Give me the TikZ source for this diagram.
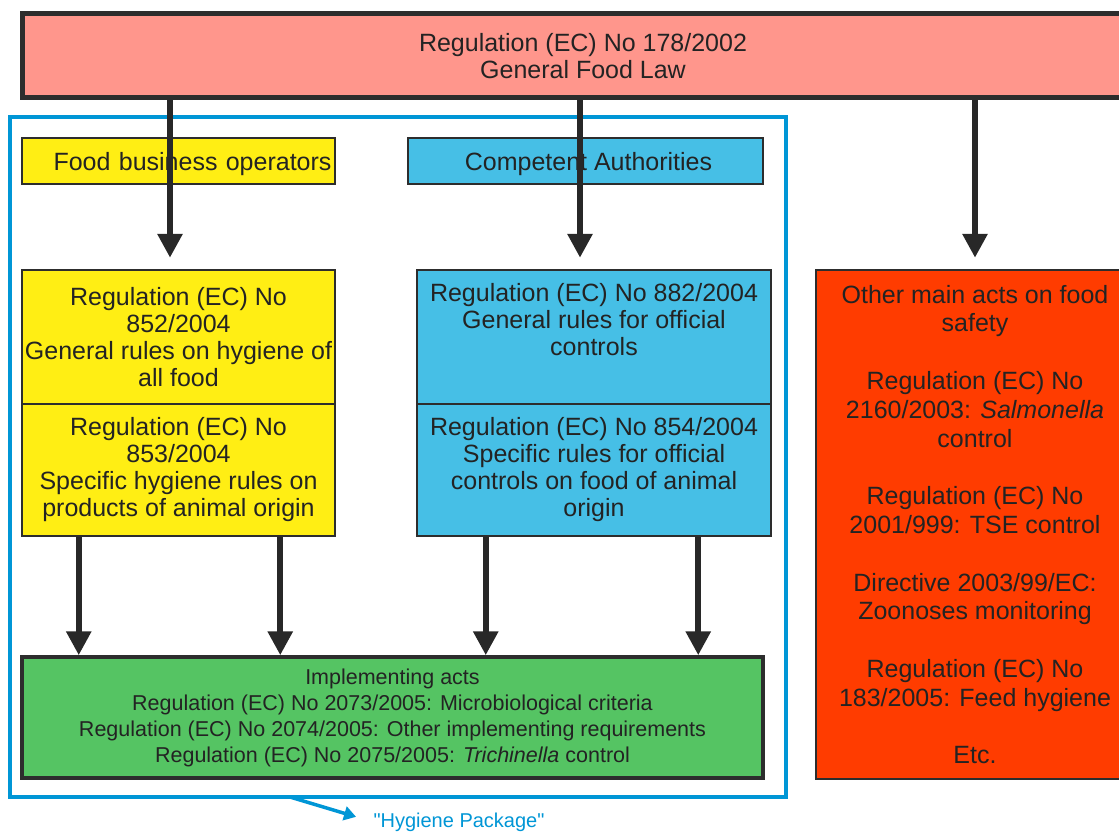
\documentclass[tikz,border=0pt]{standalone}
\usepackage{fontspec}
\setmainfont{Liberation Sans}
\newfontfamily\hygfont{Liberation Sans}
\usetikzlibrary{arrows.meta}
\definecolor{salmon}{RGB}{255,150,140}
\definecolor{yel}{RGB}{255,238,20}
\definecolor{sky}{RGB}{70,191,230}
\definecolor{grn}{RGB}{85,196,99}
\definecolor{orng}{RGB}{255,60,0}
\definecolor{hyg}{RGB}{0,150,214}
\definecolor{boxline}{RGB}{45,45,45}
\definecolor{txt}{RGB}{35,35,35}
\definecolor{arr}{RGB}{40,40,40}
\tikzset{
  box/.style={draw=boxline, line width=2.5pt, align=center, inner sep=0pt, text=txt,
    font=\fontsize{25}{27}\selectfont},
  bigarrow/.style={draw=arr, line width=6pt, -{Triangle[width=24pt,length=24pt]}},
}
\begin{document}
\begin{tikzpicture}[x=1pt,y=-1pt]
\useasboundingbox (0,0) rectangle (1119,832);
\clip (0,0) rectangle (1119,832);
\fill[white] (0,0) rectangle (1119,832);
% hygiene package frame
\draw[hyg, line width=3.5pt] (10,117) rectangle (786,797);
% boxes
\node[box, line width=5pt, fill=salmon, minimum width=1122pt, minimum height=84pt] (gfl) at (583,56)
  {Regulation (EC) No 178/2002\\General Food Law};
\node[box, fill=yel, minimum width=313pt, minimum height=46pt, text width=306pt, align=right,
  text height=20pt, text depth=2pt] (fbo) at (178.5,161)
  {Food business operators};
\node[box, fill=sky, minimum width=355pt, minimum height=46pt,
  text height=20pt, text depth=2pt] (ca) at (585.5,161)
  {\hspace*{6pt}Competent Authorities};
\node[box, fill=yel, minimum width=313pt, minimum height=134pt] (r852) at (178.5,337)
  {Regulation (EC) No\\852/2004\\General rules on hygiene of\\all food};
\node[box, fill=yel, minimum width=313pt, minimum height=132pt] (r853) at (178.5,470)
  {Regulation (EC) No\\853/2004\\Specific hygiene rules on\\products of animal origin};
\node[box, fill=sky, minimum width=354pt, minimum height=134pt] (r882) at (594,337)
  {Regulation (EC) No 882/2004\\General rules for official\\controls\\\strut};
\node[box, fill=sky, minimum width=354pt, minimum height=132pt] (r854) at (594,470)
  {Regulation (EC) No 854/2004\\Specific rules for official\\controls on food of animal\\origin};
\node[box, fill=grn, line width=3.5pt, minimum width=741pt, minimum height=121pt,
  font=\fontsize{21.5}{26}\selectfont] (impl) at (392.5,717.5)
  {Implementing acts\\Regulation (EC) No 2073/2005: Microbiological criteria\\
   Regulation (EC) No 2074/2005: Other implementing requirements\\
   Regulation (EC) No 2075/2005: \textit{Trichinella} control};
\node[box, fill=orng, minimum width=318pt, minimum height=509pt,
  font=\fontsize{25}{28.8}\selectfont] (other) at (975,524.5)
  {Other main acts on food\\safety\\[28.8pt]
   Regulation (EC) No\\2160/2003: \textit{Salmonella}\\control\\[28.8pt]
   Regulation (EC) No\\2001/999: TSE control\\[28.8pt]
   Directive 2003/99/EC:\\Zoonoses monitoring\\[28.8pt]
   Regulation (EC) No\\183/2005: Feed hygiene\\[28.8pt]
   Etc.};
% top arrows
\coordinate (t1) at ([xshift=-8.5pt,yshift=11pt]r852.north);
\coordinate (t2) at ([xshift=-14pt,yshift=11pt]r882.north);
\coordinate (t3) at ([yshift=11pt]other.north);
\draw[bigarrow] (t1 |- gfl.south) -- (t1);
\draw[bigarrow] (t2 |- gfl.south) -- (t2);
\draw[bigarrow] (t3 |- gfl.south) -- (t3);
% lower arrows
\coordinate (b1) at ([xshift=58pt]r853.south west);
\coordinate (b2) at ([xshift=-56pt]r853.south east);
\coordinate (b3) at ([xshift=70pt]r854.south west);
\coordinate (b4) at ([xshift=-74pt]r854.south east);
\draw[bigarrow] (b1) -- (b1 |- impl.north);
\draw[bigarrow] (b2) -- (b2 |- impl.north);
\draw[bigarrow] (b3) -- (b3 |- impl.north);
\draw[bigarrow] (b4) -- (b4 |- impl.north);
% hygiene package label
\coordinate (hp) at (290,797);
\node[text=hyg, font=\hygfont\fontsize{20}{22}\selectfont, inner sep=0pt] (hyglabel) at (459,822) {"Hygiene Package"};
\draw[hyg, line width=3.5pt, -{Triangle[width=14pt,length=12pt]}, shorten >=18pt] (hp) -- (hyglabel.west);
\end{tikzpicture}
\end{document}
